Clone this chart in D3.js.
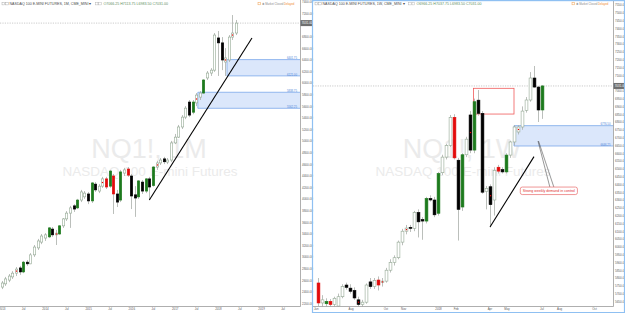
<!DOCTYPE html>
<html>
<head>
<meta charset="utf-8">
<script src="https://cdnjs.cloudflare.com/ajax/libs/d3/7.8.5/d3.min.js"></script>
<style>
  body { margin: 0; background: #fff; }
  svg { display: block; font-family: "Liberation Sans", Arial, sans-serif; }
</style>
</head>
<body>
<script>
// ---- left panel : NQ1! monthly ----
var leftMonths = ["2013-01","2013-02","2013-03","2013-04","2013-05","2013-06","2013-07","2013-08","2013-09","2013-10","2013-11","2013-12",
  "2014-01","2014-02","2014-03","2014-04","2014-05","2014-06","2014-07","2014-08","2014-09","2014-10","2014-11","2014-12",
  "2015-01","2015-02","2015-03","2015-04","2015-05","2015-06","2015-07","2015-08","2015-09","2015-10","2015-11","2015-12",
  "2016-01","2016-02","2016-03","2016-04","2016-05","2016-06","2016-07","2016-08","2016-09","2016-10","2016-11","2016-12",
  "2017-01","2017-02","2017-03","2017-04","2017-05","2017-06","2017-07","2017-08","2017-09","2017-10","2017-11","2017-12",
  "2018-01","2018-02","2018-03","2018-04","2018-05","2018-06"];
var leftOpen  = [2480,2535,2600,2655,2720,2810,2740,2910,2880,3035,3155,3255,3325,3345,3480,3380,3395,3535,3655,3755,3880,3845,3980,4035,4085,3965,4255,4135,4220,4345,4220,4395,4085,3980,4445,4515,4395,4070,4035,4290,4135,4345,4230,4550,4620,4690,4635,4670,4965,5065,5240,5410,5670,5495,5655,5755,5825,6085,6170,6220,6775,6690,6360,6395,6790,6860];
var leftHigh  = [2585,2655,2705,2755,2825,2845,2930,2945,3065,3205,3310,3395,3410,3515,3515,3465,3550,3670,3790,3880,3910,4000,4155,4135,4120,4290,4290,4255,4380,4380,4500,4430,4155,4500,4535,4550,4430,4220,4325,4325,4360,4380,4565,4655,4705,4725,4705,5000,5120,5275,5445,5600,5705,5705,5825,5860,6065,6205,6255,6860,6895,6790,6600,6825,7170,7085];
var leftLow   = [2445,2500,2565,2620,2670,2690,2720,2845,2875,3000,3120,3220,3275,3325,3345,3205,3380,3500,3620,3500,3775,3825,3945,4000,3910,3930,4120,4100,4190,4170,4190,3740,3860,3945,4395,4380,3825,3690,4000,4085,4100,3980,4210,4500,4585,4600,4600,4635,4945,5050,5205,5375,5410,5460,5600,5705,5810,6050,6120,6190,6120,6220,6120,6360,6740,6825];
var leftClose = [2550,2620,2670,2720,2790,2740,2910,2880,3035,3170,3275,3360,3380,3500,3380,3410,3535,3655,3755,3845,3825,3980,4120,4100,3965,4275,4155,4220,4345,4205,4480,4085,3945,4465,4500,4410,4050,4015,4310,4135,4345,4205,4550,4620,4670,4640,4670,4965,5065,5240,5410,5565,5445,5670,5790,5825,6050,6170,6220,6825,6690,6395,6430,6790,6860,7031];
// painted bars (by index)
var leftGreen = [6,13,16,21,25,30,33,38,40,42,53,56];
var leftRed   = [29,31,35];
var leftDots  = [4,15,28,43,54,62,64];

var leftTickDates = ["2013-01","2013-07","2014-01","2014-07","2015-01","2015-07","2016-01","2016-07","2017-01","2017-07","2018-01","2018-07","2019-01","2019-07"];
var leftTickText  = ["2013","Jul","2014","Jul","2015","Jul","2016","Jul","2017","Jul","2018","Jul","2019","Jul"];
var leftPriceTicks = d3.range(2200, 7401, 200);

// demand zones + trend line on the monthly
var leftZoneStart = ["2018-03-19","2017-07-16"];
var leftZoneTop   = [6401.75, 5838.75];
var leftZoneBot   = [6121.00, 5562.25];
var leftTrendDates  = ["2016-06-01","2018-10-16"];
var leftTrendPrices = [3981, 6774];

// ---- right panel : NQ1! weekly ----
var rightWeeks = ["2017-06-05","2017-06-12","2017-06-19","2017-06-26","2017-07-03","2017-07-10","2017-07-17","2017-07-24","2017-07-31",
  "2017-08-07","2017-08-14","2017-08-21","2017-08-28","2017-09-04","2017-09-11","2017-09-18","2017-09-25","2017-10-02","2017-10-09",
  "2017-10-16","2017-10-23","2017-10-30","2017-11-06","2017-11-13","2017-11-20","2017-11-27","2017-12-04","2017-12-11","2017-12-18",
  "2017-12-25","2018-01-01","2018-01-08","2018-01-15","2018-01-22","2018-01-29","2018-02-05","2018-02-12","2018-02-19","2018-02-26",
  "2018-03-05","2018-03-12","2018-03-19","2018-03-26","2018-04-02","2018-04-09","2018-04-16","2018-04-23","2018-04-30","2018-05-07",
  "2018-05-14","2018-05-21","2018-05-28","2018-06-04","2018-06-11","2018-06-18","2018-06-25","2018-07-02"];
var rightOpen  = [5768,5640,5635,5650,5630,5620,5680,5755,5735,5720,5660,5630,5645,5775,5745,5787,5770,5780,5850,5900,5930,6030,6100,6125,6118,6220,6175,6165,6310,6300,6215,6475,6575,6650,6830,6555,6255,6590,6845,6620,6940,6855,6355,6385,6300,6510,6495,6480,6588,6672,6736,6768,6875,6941,7082,7024,6877];
var rightHigh  = [5800,5690,5670,5665,5680,5700,5760,5770,5760,5740,5680,5660,5765,5800,5800,5810,5800,5865,5920,5945,6040,6115,6140,6140,6230,6240,6190,6320,6330,6320,6480,6590,6660,6845,6850,6570,6600,6705,6870,6950,7005,6870,6390,6400,6510,6525,6510,6600,6680,6780,6780,6900,6960,7120,7159,7030,7037];
var rightLow   = [5620,5615,5600,5605,5615,5605,5670,5725,5700,5660,5615,5600,5635,5730,5730,5720,5745,5770,5835,5880,5920,6010,6080,6095,6100,6060,6045,6150,6290,6190,6200,6460,6560,6640,6560,6040,6230,6575,6600,6600,6840,6340,6240,6125,6200,6470,6470,6470,6570,6650,6720,6750,6860,6930,7020,6800,6820];
var rightClose = [5640,5660,5650,5630,5670,5680,5745,5740,5715,5672,5630,5645,5755,5745,5785,5755,5780,5850,5900,5930,6030,6100,6120,6118,6220,6160,6165,6310,6300,6205,6470,6575,6650,6830,6570,6240,6590,6690,6620,6930,6855,6350,6375,6270,6490,6485,6480,6588,6672,6768,6768,6870,6941,7082,7024,6877,7031];
var rightGreen = [2,27,30,36,39,47,56];
var rightRed   = [0,3,15,34,45];
var rightDots  = [10,16,22,38,43,50];

var rightTickDates = ["2017-06-01","2017-08-01","2017-10-01","2017-11-01","2018-01-01","2018-02-01","2018-04-01","2018-05-01","2018-07-01","2018-08-01","2018-10-01"];
var rightTickText  = ["Jun","Aug","Oct","Nov","2018","Feb","Apr","May","Jul","Aug","Oct"];
var rightPriceTicks = d3.range(5650, 7551, 50);

var rightZoneStart = "2018-05-14";
var rightZoneTop = 6776.50, rightZoneBot = 6646.25;
var supplyBoxDates  = ["2018-03-04","2018-05-14"];
var supplyBoxPrices = [7016, 6851];
var rightTrendDates  = ["2018-04-02","2018-06-18"];
var rightTrendPrices = [6127, 6578];
var calloutText = "Strong weekly demand in control";
var calloutAnchor = ["2018-06-25", 6678];
var calloutPos = ["2018-07-14", 6383];

var lastPrice = 7031;

// ----------------------------------------------------------------
var parseM = d3.timeParse("%Y-%m");
var parseD = d3.timeParse("%Y-%m-%d");

var W = 625, H = 313;
var axisLineY = 306.5;
var leftAxisX = 300.5, rightAxisX = 613.5, rightStart = 313;

var svg = d3.select("body").append("svg").attr("width", W).attr("height", H);

var xL = d3.scaleTime().domain([parseM("2013-01"), parseM("2019-07")]).range([1.7, 282.5]);
var yL = d3.scaleLinear().domain([2200, 7400]).range([303.3, 1.7]);
var xR = d3.scaleTime().domain([parseD("2017-06-05"), parseD("2018-07-02")]).range([318, 542]);
var yR = d3.scaleLinear().domain([5650, 7550]).range([301.4, 5]);

var defs = svg.append("defs");
defs.append("clipPath").attr("id", "clipL").append("rect").attr("x", 0).attr("y", 0).attr("width", 300).attr("height", axisLineY);
defs.append("clipPath").attr("id", "clipR").append("rect").attr("x", rightStart).attr("y", 0).attr("width", rightAxisX - rightStart).attr("height", axisLineY);

var gL = svg.append("g").attr("clip-path", "url(#clipL)");
var gR = svg.append("g").attr("clip-path", "url(#clipR)");

// watermarks
function watermark(g, cx, sym, sub) {
  g.append("text").attr("x", cx).attr("y", 157.5).attr("text-anchor", "middle")
    .attr("font-size", 27).attr("fill", "#ebebeb").text(sym);
  g.append("text").attr("x", cx + 1).attr("y", 175.5).attr("text-anchor", "middle")
    .attr("font-size", 13.5).attr("fill", "#ebebeb").text(sub);
}
watermark(gL, 149, "NQ1!, 1M", "NASDAQ 100 E-mini Futures");
watermark(gR, 462, "NQ1!, 1W", "NASDAQ 100 E-mini Futures");

// price lines (dotted)
gL.append("line").attr("x1", 0).attr("x2", 300).attr("y1", yL(lastPrice)).attr("y2", yL(lastPrice))
  .attr("stroke", "#b5b5b5").attr("stroke-width", 0.7).attr("stroke-dasharray", "1.2,1.2");
gR.append("line").attr("x1", rightStart).attr("x2", rightAxisX).attr("y1", yR(lastPrice)).attr("y2", yR(lastPrice))
  .attr("stroke", "#b5b5b5").attr("stroke-width", 0.7).attr("stroke-dasharray", "1.2,1.2");

// zones
function zone(g, x0, x1, yTop, yBot, labTop, labBot) {
  g.append("rect").attr("x", x0).attr("y", yTop).attr("width", x1 - x0).attr("height", yBot - yTop)
    .attr("fill", "#dbe7fb");
  g.append("line").attr("x1", x0).attr("x2", x1).attr("y1", yTop).attr("y2", yTop).attr("stroke", "#7aa7ea").attr("stroke-width", 0.8);
  g.append("line").attr("x1", x0).attr("x2", x1).attr("y1", yBot).attr("y2", yBot).attr("stroke", "#7aa7ea").attr("stroke-width", 0.8);
  g.append("line").attr("x1", x0).attr("x2", x0).attr("y1", yTop).attr("y2", yBot).attr("stroke", "#7aa7ea").attr("stroke-width", 0.8);
  g.append("text").attr("x", x1 - 3).attr("y", yTop - 0.2).attr("text-anchor", "end").attr("font-size", 2.8)
    .attr("fill", "#4f86d8").text(labTop);
  g.append("text").attr("x", x1 - 3).attr("y", yBot - 0.2).attr("text-anchor", "end").attr("font-size", 2.8)
    .attr("fill", "#4f86d8").text(labBot);
}
leftZoneStart.forEach(function(d, i) {
  zone(gL, xL(parseD(d)), 300, yL(leftZoneTop[i]), yL(leftZoneBot[i]),
    leftZoneTop[i].toFixed(2), leftZoneBot[i].toFixed(2));
});
zone(gR, xR(parseD(rightZoneStart)), rightAxisX, yR(rightZoneTop), yR(rightZoneBot),
  rightZoneTop.toFixed(2), rightZoneBot.toFixed(2));

// supply box (red outline)
gR.append("rect")
  .attr("x", xR(parseD(supplyBoxDates[0]))).attr("y", yR(supplyBoxPrices[0]))
  .attr("width", xR(parseD(supplyBoxDates[1])) - xR(parseD(supplyBoxDates[0])))
  .attr("height", yR(supplyBoxPrices[1]) - yR(supplyBoxPrices[0]))
  .attr("fill", "#fff").attr("fill-opacity", 0.6).attr("stroke", "#f05a5a").attr("stroke-width", 0.8);

// candles
function candles(g, dates, o, h, l, c, greens, reds, dots, x, y, bw) {
  var rows = dates.map(function(d, i) {
    var kind = c[i] >= o[i] ? "up" : "down";
    if (greens.indexOf(i) >= 0) kind = "green";
    if (reds.indexOf(i) >= 0) kind = "red";
    return { t: d, o: o[i], h: h[i], l: l[i], c: c[i], kind: kind, dot: dots.indexOf(i) >= 0 };
  });
  var fills = { up: "#fff", down: "#000", green: "#1d7a1d", red: "#e30b0b" };
  var strokes = { up: "#93a893", down: "#000", green: "#1d7a1d", red: "#e30b0b" };

  var bars = g.selectAll(null).data(rows).enter().append("g");
  bars.append("line")
    .attr("x1", function(d) { return Math.round(x(d.t)) + 0.5; })
    .attr("x2", function(d) { return Math.round(x(d.t)) + 0.5; })
    .attr("y1", function(d) { return y(d.h); })
    .attr("y2", function(d) { return y(d.l); })
    .attr("stroke", "#a9aea9").attr("stroke-width", 0.8);
  bars.append("rect")
    .attr("x", function(d) { return Math.round(x(d.t)) + 0.5 - bw / 2; })
    .attr("y", function(d) { return y(Math.max(d.o, d.c)); })
    .attr("width", bw)
    .attr("height", function(d) { return Math.max(0.8, Math.abs(y(d.o) - y(d.c))); })
    .attr("fill", function(d) { return fills[d.kind]; })
    .attr("stroke", function(d) { return strokes[d.kind]; })
    .attr("stroke-width", 0.6);
  bars.filter(function(d) { return d.dot; }).append("rect")
    .attr("x", function(d) { return Math.round(x(d.t)) - 0.1; })
    .attr("y", function(d) { return y((d.o + d.c) / 2) - 0.6; })
    .attr("width", 1.2).attr("height", 1.2).attr("fill", "#e00");
}
candles(gL, leftMonths.map(parseM), leftOpen, leftHigh, leftLow, leftClose, leftGreen, leftRed, leftDots, xL, yL, 2.4);
candles(gR, rightWeeks.map(parseD), rightOpen, rightHigh, rightLow, rightClose, rightGreen, rightRed, rightDots, xR, yR, 2.8);

// trend lines
gL.append("line")
  .attr("x1", xL(parseD(leftTrendDates[0]))).attr("y1", yL(leftTrendPrices[0]))
  .attr("x2", xL(parseD(leftTrendDates[1]))).attr("y2", yL(leftTrendPrices[1]))
  .attr("stroke", "#000").attr("stroke-width", 1.1);
gR.append("line")
  .attr("x1", xR(parseD(rightTrendDates[0]))).attr("y1", yR(rightTrendPrices[0]))
  .attr("x2", xR(parseD(rightTrendDates[1]))).attr("y2", yR(rightTrendPrices[1]))
  .attr("stroke", "#000").attr("stroke-width", 1.1);

// callout
var ax = xR(parseD(calloutAnchor[0])), ay = yR(calloutAnchor[1]);
var cx = xR(parseD(calloutPos[0])), cy = yR(calloutPos[1]);
gR.append("line").attr("x1", cx + 1).attr("y1", cy).attr("x2", ax).attr("y2", ay).attr("stroke", "#333").attr("stroke-width", 0.5);
gR.append("line").attr("x1", cx + 5).attr("y1", cy).attr("x2", ax + 0.5).attr("y2", ay).attr("stroke", "#333").attr("stroke-width", 0.5);
var ct = gR.append("text").attr("x", cx).attr("y", cy + 5.2).attr("text-anchor", "middle")
  .attr("font-size", 3.6).attr("fill", "#e03030").text(calloutText);
var tw = ct.node().getComputedTextLength();
gR.insert("rect", "text:last-of-type")
  .attr("x", cx - tw / 2 - 2.5).attr("y", cy).attr("width", tw + 5).attr("height", 7.5)
  .attr("rx", 2).attr("fill", "#fff").attr("stroke", "#e86a6a").attr("stroke-width", 0.7);
ct.raise();

// axes (labels under the last price tag are hidden, as on the chart)
function styleAxis(g) {
  g.select(".domain").remove();
  g.selectAll("text").attr("fill", "#5a5a5a").attr("font-family", null);
}
var leftShown = leftPriceTicks.filter(function(v) { return Math.abs(yL(v) - yL(lastPrice)) > 4; });
var rightShown = rightPriceTicks.filter(function(v) { return Math.abs(yR(v) - yR(lastPrice)) > 4; });
var axL = svg.append("g").attr("transform", "translate(" + leftAxisX + ",0)")
  .call(d3.axisRight(yL).tickValues(leftShown).tickSize(0).tickPadding(1.5).tickFormat(d3.format(".2f")))
  .attr("font-size", 3);
styleAxis(axL);
var axR = svg.append("g").attr("transform", "translate(" + rightAxisX + ",0)")
  .call(d3.axisRight(yR).tickValues(rightShown).tickSize(0).tickPadding(1.5).tickFormat(d3.format(".2f")))
  .attr("font-size", 3);
styleAxis(axR);

var axBL = svg.append("g").attr("transform", "translate(0," + axisLineY + ")")
  .call(d3.axisBottom(xL).tickValues(leftTickDates.map(parseM)).tickSize(0).tickPadding(1.8)
    .tickFormat(function(d, i) { return leftTickText[i]; }))
  .attr("font-size", 2.9);
styleAxis(axBL);
var axBR = svg.append("g").attr("transform", "translate(0," + axisLineY + ")")
  .call(d3.axisBottom(xR).tickValues(rightTickDates.map(parseD)).tickSize(0).tickPadding(1.8)
    .tickFormat(function(d, i) { return rightTickText[i]; }))
  .attr("font-size", 2.9);
styleAxis(axBR);

// axis lines
svg.append("line").attr("x1", leftAxisX).attr("x2", leftAxisX).attr("y1", 0).attr("y2", axisLineY).attr("stroke", "#9a9a9a").attr("stroke-width", 0.8);
svg.append("line").attr("x1", 0).attr("x2", leftAxisX).attr("y1", axisLineY).attr("y2", axisLineY).attr("stroke", "#9a9a9a").attr("stroke-width", 0.8);
svg.append("line").attr("x1", rightAxisX).attr("x2", rightAxisX).attr("y1", 0).attr("y2", axisLineY).attr("stroke", "#9a9a9a").attr("stroke-width", 0.8);
svg.append("line").attr("x1", rightStart).attr("x2", rightAxisX).attr("y1", axisLineY).attr("y2", axisLineY).attr("stroke", "#9a9a9a").attr("stroke-width", 0.8);

// last price tags
function priceTag(x0, yy) {
  svg.append("rect").attr("x", x0).attr("y", yy - 3).attr("width", 12.5).attr("height", 6).attr("fill", "#6e6e6e");
  svg.append("text").attr("x", x0 + 1.2).attr("y", yy + 1.1).attr("font-size", 3).attr("fill", "#fff").text(lastPrice.toFixed(2));
}
priceTag(leftAxisX, yL(lastPrice));
priceTag(rightAxisX, yR(lastPrice));

// headers
function header(x0, title, ohlc, mx) {
  svg.append("rect").attr("x", x0).attr("y", 2.3).attr("width", 2.6).attr("height", 2.6).attr("fill", "none").attr("stroke", "#999").attr("stroke-width", 0.4);
  svg.append("rect").attr("x", x0 + 3.6).attr("y", 2.3).attr("width", 2.6).attr("height", 2.6).attr("fill", "none").attr("stroke", "#999").attr("stroke-width", 0.4);
  var t = svg.append("text").attr("x", x0 + 7.5).attr("y", 5).attr("font-size", 3.6).attr("fill", "#4a4a4a").text(title);
  var w = t.node().getComputedTextLength();
  var ix = x0 + 7.5 + w + 4;
  svg.append("rect").attr("x", ix).attr("y", 2.3).attr("width", 2.6).attr("height", 2.6).attr("fill", "none").attr("stroke", "#aaa").attr("stroke-width", 0.4);
  svg.append("rect").attr("x", ix + 3.4).attr("y", 2.3).attr("width", 2.6).attr("height", 2.6).attr("fill", "none").attr("stroke", "#aaa").attr("stroke-width", 0.4);
  svg.append("text").attr("x", ix + 8).attr("y", 5).attr("font-size", 3.6).attr("fill", "#5f8f5f").text(ohlc);
  // market status
  svg.append("rect").attr("x", mx).attr("y", 2.4).attr("width", 2.4).attr("height", 2.4).attr("fill", "none").attr("stroke", "#f0a050").attr("stroke-width", 0.5);
  svg.append("text").attr("x", mx + 3.5).attr("y", 4.8).attr("font-size", 2.8).attr("fill", "#8a8a8a").text("\u2731 Market Closed");
  svg.append("text").attr("x", mx + 26).attr("y", 4.8).attr("font-size", 2.8).attr("fill", "#f08a2a").text("Delayed");
}
header(2, "NASDAQ 100 E-MINI FUTURES, 1M, CME_MINI \u25BE", "O7066.25 H7113.75 L6983.50 C7031.00", 258);
header(315, "NASDAQ 100 E-MINI FUTURES, 1W, CME_MINI \u25BE", "O6966.25 H7037.75 L6983.50 C7031.00", 572);

// selected pane border
svg.append("rect").attr("x", 312.5).attr("y", 0.6).attr("width", 312).attr("height", 312)
  .attr("fill", "none").attr("stroke", "#8fc0f2").attr("stroke-width", 1.2);
</script>
</body>
</html>
